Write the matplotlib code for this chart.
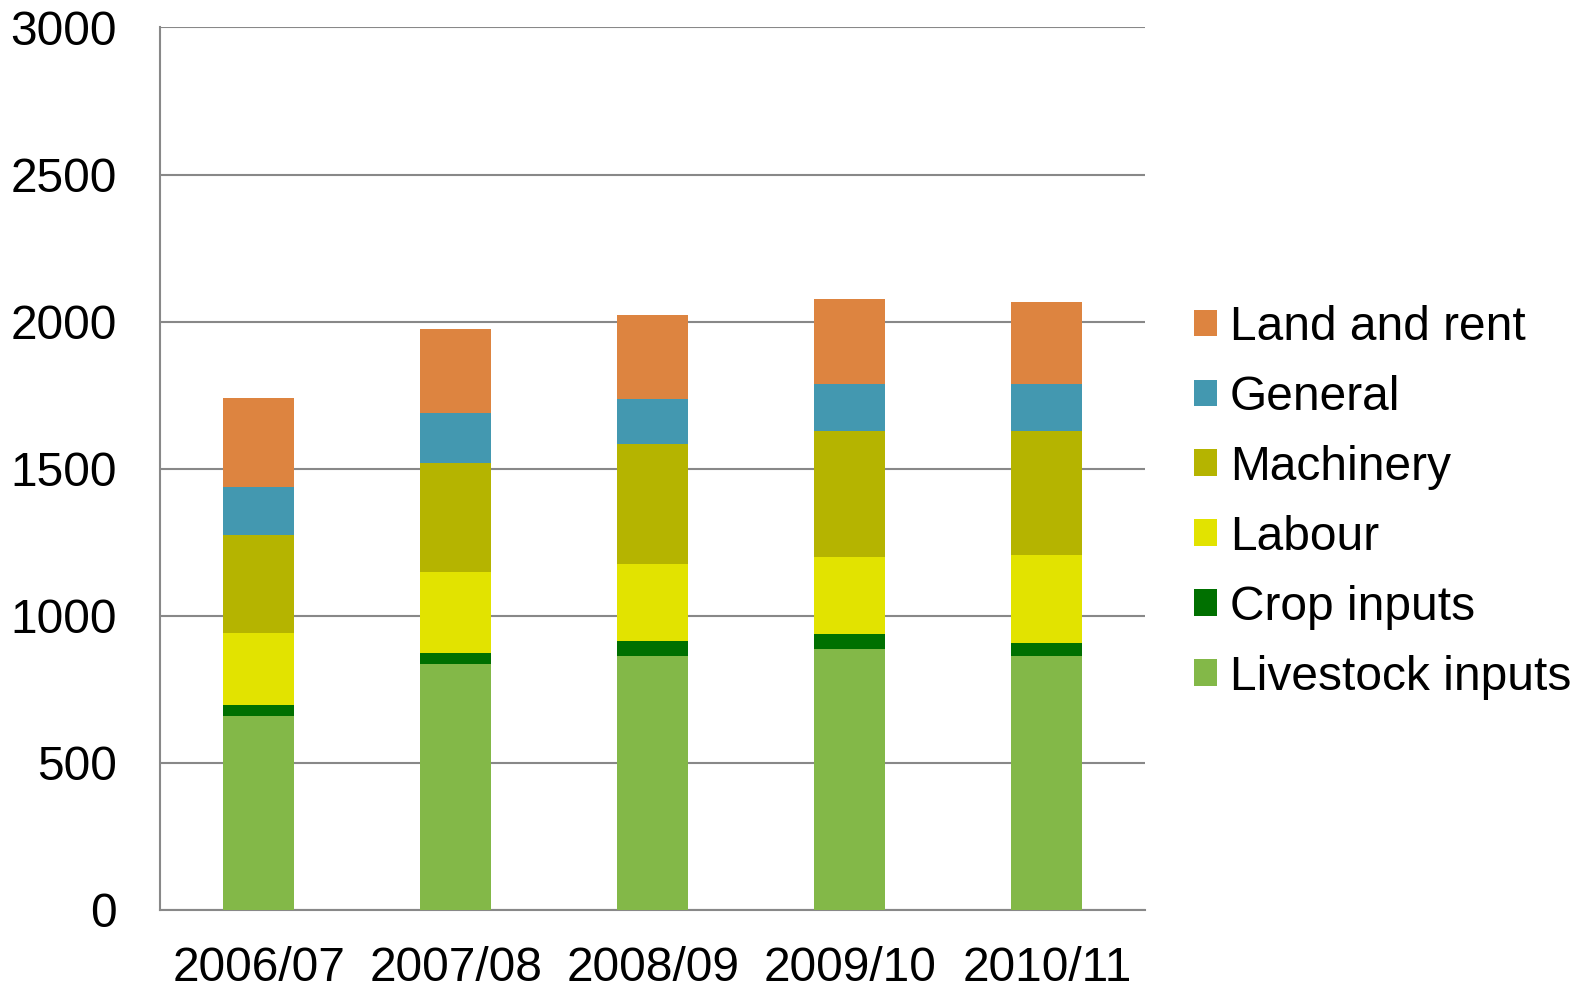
import numpy as np
import matplotlib.pyplot as plt

plt.rcParams['font.family'] = ['Liberation Sans', 'DejaVu Sans']

# Data
years = ['2006/07', '2007/08', '2008/09', '2009/10', '2010/11']
livestock = [658, 835, 864, 887, 861]
crop = [37, 37, 49, 51, 47]
labour = [245, 276, 262, 263, 299]
machinery = [334, 370, 408, 428, 420]
general = [164, 170, 153, 160, 161]
land = [301, 286, 286, 287, 280]

series = [
    ('Livestock inputs', livestock, '#83B848'),
    ('Crop inputs', crop, '#007000'),
    ('Labour', labour, '#E2E300'),
    ('Machinery', machinery, '#B5B400'),
    ('General', general, '#4398B0'),
    ('Land and rent', land, '#DD8440'),
]

fig = plt.figure(figsize=(15.88, 9.89), dpi=100)
ax = fig.add_axes([0.1008, 0.0802, 0.6205, 0.892])

x = np.arange(len(years))
bottom = np.zeros(len(years))
handles = []
for name, vals, col in series:
    h = ax.bar(x, vals, width=0.36, bottom=bottom, color=col, label=name, zorder=3)
    handles.append(h)
    bottom += np.array(vals)

ax.set_xlim(-0.5, len(years) - 0.5)
ax.set_ylim(0, 3000)
ax.set_yticks(range(0, 3001, 500))
ax.set_xticks(x)
ax.set_xticklabels(years)
ax.tick_params(axis='both', length=0, labelsize=34.5)
ax.tick_params(axis='y', pad=31)
ax.tick_params(axis='x', pad=26)
ax.yaxis.grid(True, color='#888888', linewidth=1.5, zorder=0)
for s in ['top', 'right']:
    ax.spines[s].set_visible(False)
for s in ['left', 'bottom']:
    ax.spines[s].set_color('#888888')
    ax.spines[s].set_linewidth(1.5)

leg = fig.legend(handles[::-1], [s[0] for s in series[::-1]],
                 loc='upper left', bbox_to_anchor=(1194 / 1588, 1 - 305 / 989),
                 frameon=False, fontsize=34.5, handlelength=0.48, handleheight=0.48,
                 handletextpad=0.27, labelspacing=0.52, borderpad=0, borderaxespad=0)

fig.savefig('out.png', dpi=100)
